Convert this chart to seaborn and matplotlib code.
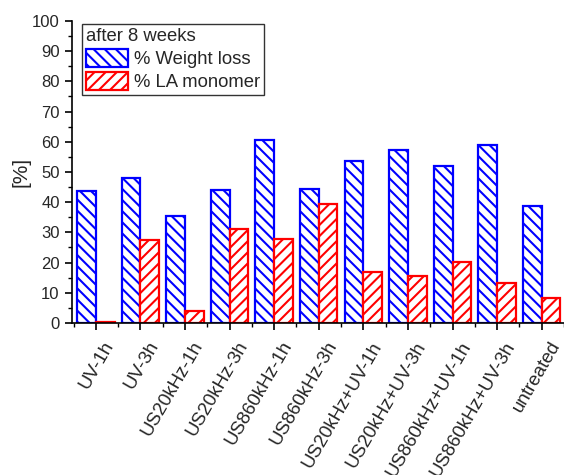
import matplotlib
matplotlib.use("Agg")
import matplotlib.pyplot as plt
from matplotlib.patches import Patch
from matplotlib.ticker import MultipleLocator
import matplotlib.transforms as mtransforms
import seaborn as sns
import pandas as pd

categories = ["UV-1h", "UV-3h", "US20kHz-1h", "US20kHz-3h", "US860kHz-1h",
              "US860kHz-3h", "US20kHz+UV-1h", "US20kHz+UV-3h",
              "US860kHz+UV-1h", "US860kHz+UV-3h", "untreated"]
weight_loss = [43.8, 48.1, 35.3, 44.1, 60.7, 44.3, 53.5, 57.4, 52.0, 59.0, 38.8]
la_monomer = [0.4, 27.6, 4.0, 31.2, 27.9, 39.3, 16.9, 15.7, 20.1, 13.3, 8.4]
series_names = ["% Weight loss", "% LA monomer"]
legend_title = "after 8 weeks"

colors = {"% Weight loss": "#0000ff", "% LA monomer": "#ff0000"}
hatches = {"% Weight loss": "\\\\\\", "% LA monomer": "///"}

df = pd.DataFrame({
    "category": categories * 2,
    "value": weight_loss + la_monomer,
    "series": [series_names[0]] * len(categories) + [series_names[1]] * len(categories),
})

sns.set_style("ticks")
plt.rcParams["font.family"] = ["Liberation Sans", "DejaVu Sans"]
plt.rcParams["hatch.linewidth"] = 1.5

fig = plt.figure(figsize=(5.64, 4.75), dpi=100)
ax = fig.add_axes([0.128, 0.32, 0.872, 0.636])

sns.barplot(data=df, x="category", y="value", hue="series", order=categories,
            hue_order=series_names, palette=colors, width=0.84, ax=ax,
            legend=False, errorbar=None)

n = len(categories)
for i, p in enumerate(ax.patches[:2 * n]):
    s = series_names[i // n]
    p.set_facecolor("white")
    p.set_edgecolor(colors[s])
    p.set_linewidth(1.6)
    p.set_hatch(hatches[s])

ax.set_ylim(0, 100)
ax.set_xlim(-0.53, 10.49)
ax.yaxis.set_major_locator(MultipleLocator(10))
ax.yaxis.set_minor_locator(MultipleLocator(5))
ax.set_xticks(range(n))
ax.set_xticks([i + 0.5 for i in range(-1, n)], minor=True)
ax.tick_params(axis="both", which="major", direction="out", length=5, width=1.2,
               labelsize=12, pad=4, color="black")
ax.tick_params(axis="both", which="minor", direction="out", length=3, width=1.0,
               color="black")
ax.set_xticklabels(categories, rotation=60, ha="right", va="top",
                   rotation_mode="anchor", fontsize=13.5)
offset = mtransforms.ScaledTranslation(0.07, -0.03, fig.dpi_scale_trans)
for lab in ax.get_xticklabels():
    lab.set_transform(lab.get_transform() + offset)
ax.set_xlabel("")
ax.set_ylabel("[%]", fontsize=15, labelpad=1)
for sp in ["top", "right"]:
    ax.spines[sp].set_visible(False)
for sp in ["left", "bottom"]:
    ax.spines[sp].set_linewidth(1.2)
    ax.spines[sp].set_color("black")

handles = [Patch(facecolor="white", edgecolor=colors[s], hatch=hatches[s],
                 linewidth=1.6, label=s) for s in series_names]
leg = ax.legend(handles=handles, title=legend_title, loc="upper left",
                bbox_to_anchor=(0.02, 0.99), frameon=True, fancybox=False,
                edgecolor="black", fontsize=13.3, title_fontsize=13.3,
                alignment="left", handlelength=2.27, handleheight=1.08,
                handletextpad=0.3, borderpad=0.22, labelspacing=0.22,
                borderaxespad=0.0)
leg.get_frame().set_linewidth(1.0)

fig.savefig("out.png", dpi=100)
